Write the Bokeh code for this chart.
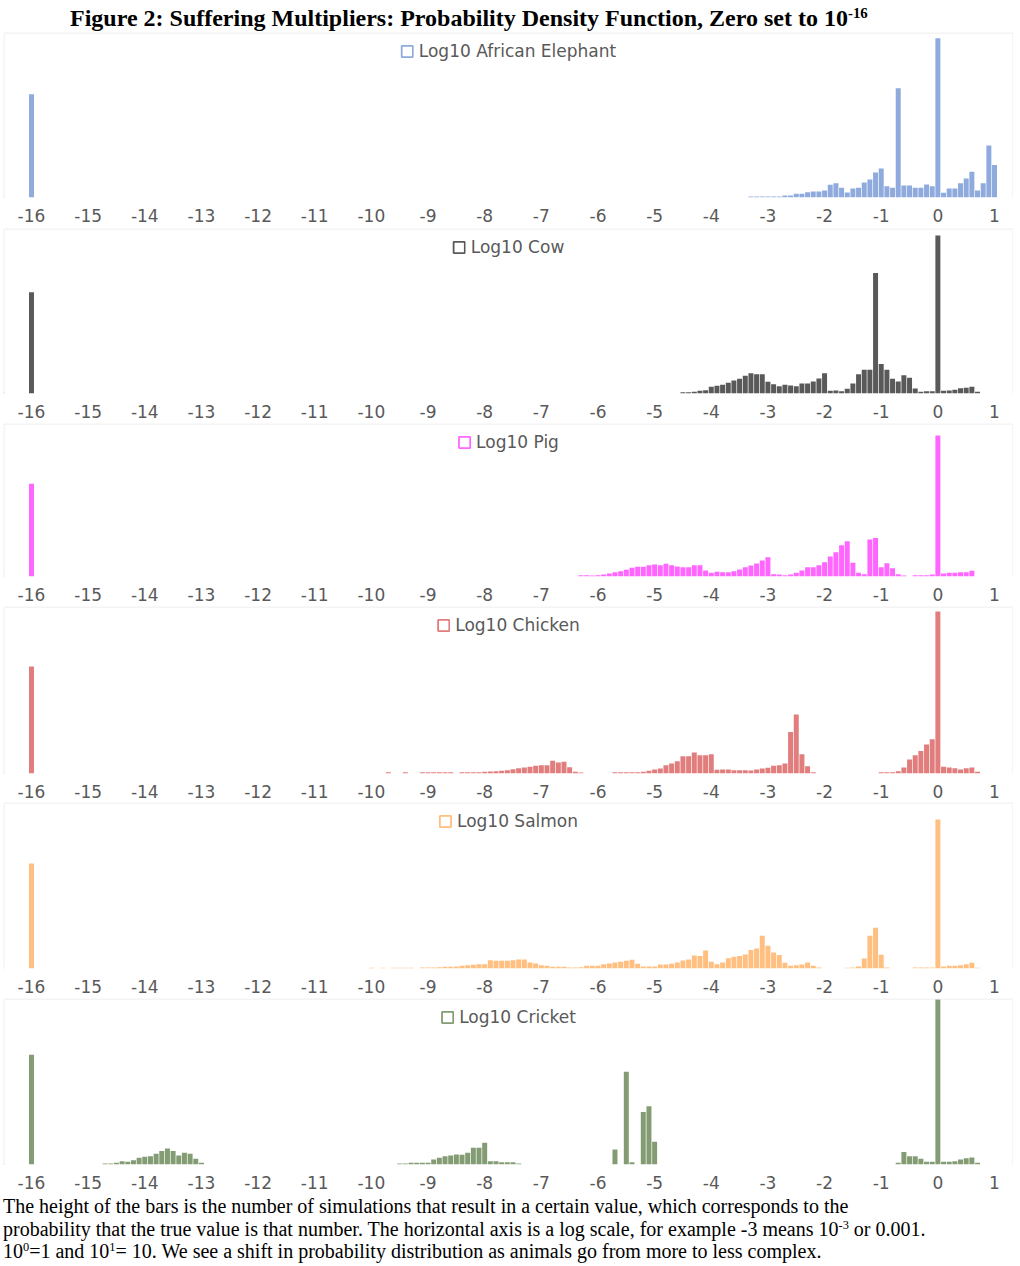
from bokeh.plotting import figure
from bokeh.layouts import column
from bokeh.models import (Div, FixedTicker, Legend, LegendItem, Range1d,
                          ColumnDataSource, BoxAnnotation)
from bokeh.embed import file_html
from bokeh.resources import INLINE

# ---------------- data ----------------
TICKS = [-16, -15, -14, -13, -12, -11, -10, -9, -8, -7, -6, -5, -4, -3, -2, -1, 0, 1]
TICK_LABELS = ["-16", "-15", "-14", "-13", "-12", "-11", "-10", "-9", "-8", "-7",
               "-6", "-5", "-4", "-3", "-2", "-1", "0", "1"]

ZERO_BIN = -16.0      # "zero set to 10^-16"
BIN_STEP = 0.1        # histogram bin width in log10 units

ELEPHANT_ZERO = 309
ELEPHANT_START = -3.3
ELEPHANT_COUNTS = [3, 3, 3, 3, 3, 3, 6, 6, 11, 11, 16, 18, 18, 21, 38, 43, 29, 15, 27, 29,
                   45, 54, 75, 87, 34, 29, 327, 36, 36, 29, 29, 39, 34, 477, 14, 27, 27, 43,
                   57, 77, 21, 43, 156, 97]

COW_ZERO = 303
COW_START = -4.5
COW_COUNTS = [4, 4, 5, 8, 10, 20, 23, 26, 32, 39, 44, 53, 61, 58, 58, 35, 28, 22, 26, 24,
              22, 30, 30, 36, 45, 61, 8, 9, 7, 14, 30, 58, 71, 71, 361, 88, 71, 44, 36, 55,
              47, 15, 5, 7, 7, 473, 8, 9, 11, 16, 17, 20, 5]

PIG_ZERO = 279
PIG_START = -6.3
PIG_COUNTS = [4, 4, 3, 4, 6, 9, 13, 16, 20, 26, 29, 29, 34, 36, 34, 38, 34, 30, 28, 28,
              34, 34, 18, 11, 14, 13, 13, 16, 21, 28, 33, 39, 48, 58, 7, 6, 4, 6, 11, 18,
              28, 28, 34, 43, 60, 73, 94, 106, 41, 11, 7, 111, 116, 28, 40, 25, 7, 3, 0, 4,
              4, 4, 6, 424, 9, 11, 11, 13, 13, 17]

CHICKEN_ZERO = 322
CHICKEN_START = -9.7
CHICKEN_COUNTS = [4, 0, 0, 4, 0, 0, 4, 4, 4, 4, 4, 4, 0, 4, 4, 4, 4, 5, 6, 7,
                  8, 10, 13, 16, 18, 20, 23, 25, 25, 38, 33, 35, 19, 5, 3, 0, 0, 0, 0, 0,
                  4, 4, 4, 4, 4, 5, 8, 12, 15, 25, 30, 37, 52, 52, 63, 55, 55, 58, 11, 12,
                  12, 10, 10, 10, 9, 12, 15, 17, 23, 25, 30, 125, 177, 58, 22, 4, 0, 0, 0, 0,
                  0, 0, 0, 0, 0, 0, 0, 4, 4, 4, 7, 18, 42, 55, 68, 87, 103, 487, 20, 18,
                  16, 12, 16, 18, 5]

SALMON_ZERO = 314
SALMON_START = -10.0
SALMON_COUNTS = [2, 0, 2, 0, 2, 2, 2, 2, 0, 3, 3, 3, 4, 5, 5, 6, 8, 10, 11, 13,
                 13, 25, 23, 23, 23, 25, 27, 27, 18, 15, 10, 8, 5, 5, 5, 3, 3, 4, 8, 8,
                 8, 13, 15, 18, 20, 23, 26, 14, 6, 6, 6, 12, 12, 14, 18, 24, 27, 39, 37, 54,
                 20, 13, 18, 31, 35, 37, 42, 55, 60, 98, 68, 48, 40, 17, 8, 10, 12, 18, 8, 3,
                 0, 0, 0, 0, 2, 3, 6, 30, 98, 122, 41, 3, 0, 0, 0, 0, 3, 3, 3, 3,
                 445, 6, 8, 8, 10, 13, 17, 2]

CRICKET_ZERO = 328
CRICKET_A_START = -14.7
CRICKET_A = [3, 3, 5, 10, 8, 13, 20, 23, 25, 32, 40, 48, 40, 27, 35, 32, 17, 5]
CRICKET_B_START = -9.5
CRICKET_B = [3, 3, 5, 5, 5, 5, 15, 20, 25, 27, 30, 29, 35, 50, 50, 65, 10, 10, 7, 7, 7, 3]
CRICKET_C_START = -5.7
CRICKET_C = [45, 0, 277, 7, 0, 157, 174, 68]
CRICKET_D_START = -0.7
CRICKET_D = [5, 37, 25, 25, 17, 8, 8, 493, 8, 8, 10, 15, 19, 21, 5]

# ---------------- styling ----------------
FIG_W = 1010
X0, X1 = -16.494, 1.335
GREY = "#595959"
TICK_FONT = "DejaVu Sans"


def make_panel(label, color, zero_count, segments, height, axis_h, y_end):
    xs, tops = [ZERO_BIN], [zero_count]
    for start, counts in segments:
        for i, c in enumerate(counts):
            xs.append(round(start + i * BIN_STEP, 2))
            tops.append(c)
    src = ColumnDataSource(dict(x=xs, top=tops))
    p = figure(width=FIG_W, height=height, x_range=Range1d(X0, X1),
               y_range=Range1d(0, y_end), output_backend="svg",
               toolbar_location=None, min_border_left=0, min_border_right=0,
               min_border_top=0, min_border_bottom=axis_h)
    p.vbar(x="x", top="top", width=0.088, source=src, fill_color=color,
           line_color=None)
    # legend swatch only (hollow square); its single point lies off the visible range
    dummy = p.vbar(x=[-100], top=[0], width=0.1, fill_color=None, line_color=color,
                   line_width=1.8)
    legend = Legend(items=[LegendItem(label=label, renderers=[dummy])],
                    location="top_center", orientation="horizontal")
    legend.border_line_color = None
    legend.background_fill_alpha = 0
    legend.label_text_color = GREY
    legend.label_text_font = TICK_FONT
    legend.label_text_font_size = "17px"
    legend.glyph_width = 14
    legend.glyph_height = 14
    legend.label_standoff = 5
    legend.margin = 9
    legend.padding = 6
    p.add_layout(legend)

    # panel border around the whole figure
    p.add_layout(BoxAnnotation(left=0.5, right=FIG_W - 0.5, top=0.5, bottom=height - 0.5,
                               left_units="canvas", right_units="canvas",
                               top_units="canvas", bottom_units="canvas",
                               fill_color=None, line_color="#d0d0d0", line_width=1.5,
                               level="overlay"))

    p.xaxis.ticker = FixedTicker(ticks=TICKS)
    p.xaxis.major_label_overrides = {t: s for t, s in zip(TICKS, TICK_LABELS)}
    p.xaxis.axis_line_color = None
    p.xaxis.major_tick_line_color = None
    p.xaxis.minor_tick_line_color = None
    p.xaxis.major_label_text_font = TICK_FONT
    p.xaxis.major_label_text_font_size = "17px"
    p.xaxis.major_label_text_color = GREY
    p.xaxis.major_label_standoff = 5
    p.yaxis.visible = False
    p.grid.visible = False
    p.outline_line_color = None
    p.background_fill_color = "white"
    p.border_fill_color = "white"
    return p


panels = [
    make_panel("Log10 African Elephant", "#8FAADC", ELEPHANT_ZERO,
               [(ELEPHANT_START, ELEPHANT_COUNTS)], 196, 31, 494),
    make_panel("Log10 Cow", "#595959", COW_ZERO,
               [(COW_START, COW_COUNTS)], 195, 30, 494),
    make_panel("Log10 Pig", "#FF66FF", PIG_ZERO,
               [(PIG_START, PIG_COUNTS)], 183, 30, 460),
    make_panel("Log10 Chicken", "#E27D7D", CHICKEN_ZERO,
               [(CHICKEN_START, CHICKEN_COUNTS)], 196, 29, 502),
    make_panel("Log10 Salmon", "#FFBF80", SALMON_ZERO,
               [(SALMON_START, SALMON_COUNTS)], 196, 30, 496),
    make_panel("Log10 Cricket", "#849C74", CRICKET_ZERO,
               [(CRICKET_A_START, CRICKET_A), (CRICKET_B_START, CRICKET_B),
                (CRICKET_C_START, CRICKET_C), (CRICKET_D_START, CRICKET_D)],
               195, 29, 496),
]

SUP = '<sup style="font-size:62%;line-height:0;vertical-align:0.55em">{}</sup>'
title_html = (
    '<div style="font-family:\'Liberation Serif\',serif;font-weight:bold;'
    'font-size:24px;line-height:26px;white-space:nowrap;padding-left:67px;'
    'padding-top:5px;color:#000;">'
    'Figure 2: Suffering Multipliers: Probability Density Function, Zero set to 10'
    + SUP.format("-16") + '</div>')
caption_html = (
    '<div style="font-family:\'Liberation Serif\',serif;font-size:20px;line-height:22.5px;'
    'white-space:nowrap;padding-top:2px;color:#000;">'
    'The height of the bars is the number of simulations that result in a certain value, '
    'which corresponds to the<br>'
    'probability that the true value is that number. The horizontal axis is a log scale, '
    'for example -3 means 10' + SUP.format("-3") + ' or 0.001.<br>'
    '10' + SUP.format("0") + '=1 and 10' + SUP.format("1") +
    '= 10. We see a shift in probability distribution as animals go from more to less complex.'
    '</div>')

title_div = Div(text=title_html, width=FIG_W, height=32, margin=0)
caption_div = Div(text=caption_html, width=FIG_W, height=70, margin=0)

layout = column(title_div, *panels, caption_div, spacing=0,
                styles={"position": "relative", "left": "3px"})

open("out.html", "w").write(file_html(layout, INLINE, "Suffering Multipliers"))
